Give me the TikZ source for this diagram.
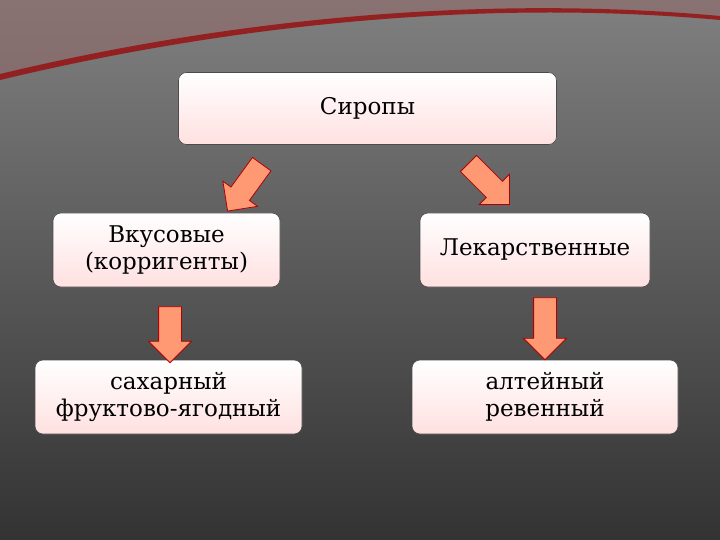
\documentclass[tikz,border=0pt]{standalone}
\usepackage{fontspec}
\setmainfont{DejaVu Serif}
\usetikzlibrary{shapes.arrows,shadows}
\begin{document}
\begin{tikzpicture}[x=1pt,y=-1pt,
 box/.style={draw=black!70,line width=0.6pt,rounded corners=8pt,top color=white,bottom color=red!12,align=center,font=\fontsize{23}{27}\selectfont,inner sep=0pt},
 barrow/.style={single arrow,draw=red!70!black,fill=red!45!orange!55,line width=0.8pt,minimum height=58pt,inner xsep=0pt,inner ysep=11pt,single arrow head extend=10pt}]
\useasboundingbox (0,0) rectangle (720,540);
\shade[top color=black!50,middle color=black!40,bottom color=black!80] (0,0) rectangle (720,540);
\fill[red!30!black!60,opacity=0.5] (0,0) -- (720,0) -- (720,20) .. controls (500,0) and (250,20) .. (0,80) -- cycle;
\fill[red!60!black,opacity=0.7] (0,80) .. controls (250,20) and (500,0) .. (720,20) -- (720,16) .. controls (500,-4) and (250,14) .. (0,74) -- cycle;
\node[box,minimum width=378pt,minimum height=72pt] (s) at (367.5,108.5) {Сиропы};
\node[box,minimum width=227pt,minimum height=74pt] (v) at (166.5,250) {Вкусовые\\(корригенты)};
\node[box,minimum width=230pt,minimum height=74pt] (l) at (535,250) {Лекарственные};
\node[box,minimum width=267pt,minimum height=74pt] (a) at (168.5,397) {сахарный\\фруктово-ягодный};
\node[box,minimum width=266pt,minimum height=74pt] (b) at (545,397) {алтейный\\ревенный};
\node[barrow,rotate=-126] (a1) at (248,183) {};
\node[barrow,rotate=-45] (a2) at (485,180) {};
\node[barrow,rotate=-90,minimum height=56pt] (a3) at (170,329) {};
\node[barrow,rotate=-90,minimum height=62pt] (a4) at (545,323) {};
\end{tikzpicture}
\end{document}
